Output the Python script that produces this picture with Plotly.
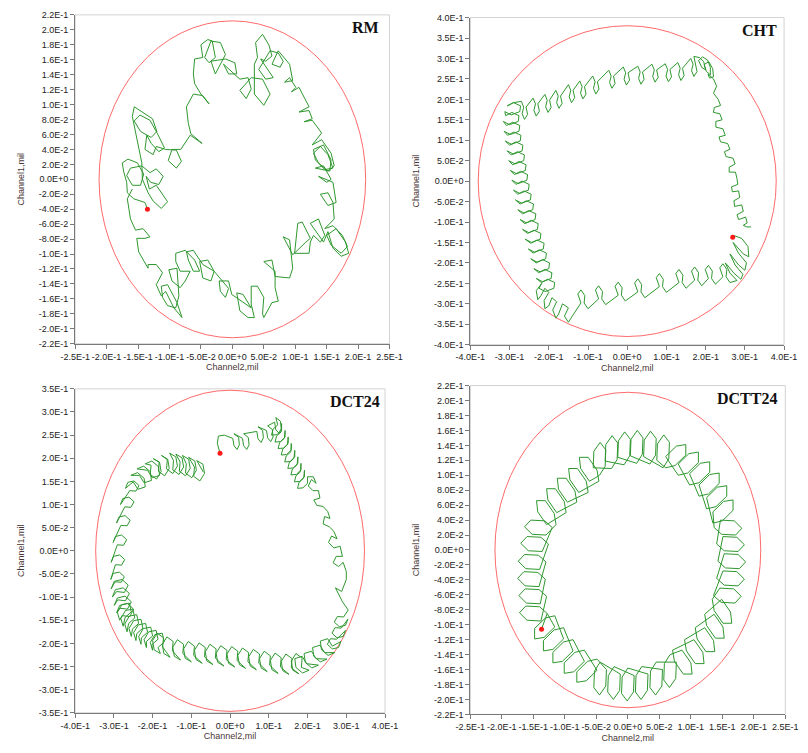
import plotly.graph_objects as go

# ---------------- data (orbit samples, units of 1e-3 mil) ----------------
rm_orbit = [
    (-135,-40),(-139,-31),(-157,-26),(-167,-18),(-168,-4),(-173,11),(-175,22),(-166,27),(-151,22),(-141,7),
    (-146,-8),(-159,-8),(-168,5),(-162,15),(-144,18),(-131,9),(-121,14),(-110,4),(-117,-7),(-130,-4),
    (-137,4),(-132,-13),(-121,-8),(-103,-30),(-113,-39),(-126,-29),(-134,-18),(-143,0),
    (-144,22),(-149,44),(-154,62),(-159,84),(-156,97),(-144,90),(-127,81),(-120,64),(-129,56),(-146,64),
    (-156,78),(-147,86),(-131,79),(-119,61),(-108,42),(-117,37),(-129,48),(-136,59),(-139,40),(-126,33),
    (-121,44),(-106,40),(-89,39),(-81,24),(-89,15),(-102,25),(-96,40),
    (-82,40),(-67,59),(-48,48),(-66,61),(-70,75),(-73,97),(-62,114),(-47,112),(-37,101),(-50,114),
    (-60,128),(-62,141),(-60,161),(-47,163),
    (-50,180),(-39,187),(-32,185),(-27,163),(-37,156),(-44,163),(-34,185),(-19,183),(-11,167),(-27,141),
    (-34,158),(-11,161),(4,156),(7,141),(-6,141),(-14,154),(12,134),(25,136),(30,121),(22,108),
    (12,119),(30,136),(48,134),(60,114),(50,99),(35,114),(35,154),
    (40,163),(37,183),(48,194),(58,180),(63,165),(53,158),(45,161),(65,136),(53,134),(42,147),
    (60,172),(73,169),(81,158),(76,150),(63,154),(73,172),(91,154),(96,132),(83,130),(91,136),
    (101,123),(94,117),(106,123),(122,97),(106,90),(122,92),(127,81),(114,77),(127,79),(142,62),
    (127,46),(142,53),(157,35),(162,18),(152,11),(137,22),(129,35),(140,44),(152,33),(160,15),
    (147,13),(132,26),(129,40),(145,46),(157,26),(155,11),(132,15),(145,18),(157,0),(150,-4),
    (137,4),(160,-4),(165,-31),
    (152,-35),(140,-20),(152,-18),(160,-31),(162,-53),(147,-66),(160,-62),(175,-75),(183,-90),(173,-99),
    (157,-88),(150,-75),(165,-66),(180,-84),(185,-99),(173,-103),(160,-92),(152,-70),(145,-84),
    (124,-59),(137,-53),(147,-75),(140,-84),(129,-75),(124,-84),(122,-99),(99,-99),(104,-59),(111,-57),
    (124,-79),(117,-84),(96,-101),(81,-77),(91,-81),(96,-119),(91,-132),(68,-130),(63,-108),(50,-110),
    (68,-123),(68,-145),(73,-163),(63,-165),(50,-185),(48,-180),(50,-158),(40,-143),(30,-143),(30,-167),
    (35,-185),(25,-185),(12,-176),(7,-152),(17,-154),(30,-172),
    (-1,-154),(-6,-136),(-21,-136),(-19,-150),(-11,-158),(-6,-146),(-29,-123),(-39,-108),(-52,-110),
    (-47,-132),(-34,-136),(-29,-123),
    (-47,-114),(-62,-95),(-73,-97),(-70,-108),(-62,-123),(-52,-123),(-60,-108),(-75,-95),(-90,-99),
    (-90,-110),(-83,-123),(-67,-123),(-75,-136),(-83,-145),(-96,-136),(-101,-121),(-88,-119),(-85,-156),
    (-90,-172),(-103,-169),(-111,-158),(-113,-143),(-103,-141),(-88,-165),(-80,-185),(-93,-172),(-106,-150),
    (-113,-156),(-121,-141),(-111,-125),(-121,-114),(-134,-114),(-134,-119),(-149,-97),(-152,-79),
    (-139,-79),(-131,-77),(-142,-66),(-154,-68),(-162,-53),(-167,-26),(-159,-13),
]

cht_orbit = [
    (272,-133),(292,-140),(308,-160),(310,-185),(296,-178),(278,-160),(270,-150),(283,-175),(304,-200),
    (300,-218),(284,-205),(268,-185),(262,-178),(275,-205),(295,-228),(290,-240),(272,-225),(255,-205),
    (250,-200),(262,-225),(280,-243),
    (262,-248),(252,-234),(254,-216),(244,-202),(236,-212),(244,-234),
    (225,-252),(215,-238),(217,-220),(207,-206),(199,-216),(207,-238),
    (190,-256),(180,-242),(182,-224),(172,-210),(164,-220),(172,-242),
    (150,-262),(140,-248),(142,-230),(132,-216),(124,-226),(132,-248),
    (100,-272),(90,-258),(92,-240),(82,-226),(74,-236),(82,-258),
    (45,-285),(35,-271),(37,-253),(27,-239),(19,-249),(27,-271),
    (-5,-293),(-15,-279),(-13,-261),(-23,-247),(-31,-257),(-23,-279),
    (-55,-302),(-65,-288),(-63,-270),(-73,-256),(-81,-266),(-73,-288),
    (-100,-312),(-110,-298),(-108,-280),(-118,-266),(-126,-276),(-118,-298),
    (-140,-330),(-150,-345),(-160,-330),(-150,-310),(-165,-300),(-175,-325),(-182,-335),(-190,-315),
    (-180,-295),(-192,-285),(-200,-305),(-210,-312),(-212,-292),(-200,-272),(-210,-262),(-220,-280),
    (-228,-290),(-232,-268),(-218,-250),
    (-225,-262),(-209,-270),(-187,-262),(-185,-248),(-203,-240),(-219,-248),
    (-232,-238),(-216,-246),(-194,-238),(-192,-224),(-210,-216),(-226,-224),
    (-238,-214),(-222,-222),(-200,-214),(-198,-200),(-216,-192),(-232,-200),
    (-246,-190),(-230,-198),(-208,-190),(-206,-176),(-224,-168),(-240,-176),
    (-252,-166),(-236,-174),(-214,-166),(-212,-152),(-230,-144),(-246,-152),
    (-260,-142),(-244,-150),(-222,-142),(-220,-128),(-238,-120),(-254,-128),
    (-267,-118),(-251,-126),(-229,-118),(-227,-104),(-245,-96),(-261,-104),
    (-273,-94),(-257,-102),(-235,-94),(-233,-80),(-251,-72),(-267,-80),
    (-279,-70),(-263,-78),(-241,-70),(-239,-56),(-257,-48),(-273,-56),
    (-285,-46),(-269,-54),(-247,-46),(-245,-32),(-263,-24),(-279,-32),
    (-290,-22),(-274,-30),(-252,-22),(-250,-8),(-268,0),(-284,-8),
    (-294,2),(-278,-6),(-256,2),(-254,16),(-272,24),(-288,16),
    (-298,26),(-282,18),(-260,26),(-258,40),(-276,48),(-292,40),
    (-302,50),(-286,42),(-264,50),(-262,64),(-280,72),(-296,64),
    (-306,74),(-290,66),(-268,74),(-266,88),(-284,96),(-300,88),
    (-311,98),(-295,90),(-273,98),(-271,112),(-289,120),(-305,112),
    (-314,122),(-298,114),(-276,122),(-274,136),(-292,144),(-308,136),
    (-316,146),(-300,138),(-278,146),(-276,160),(-294,168),(-310,160),
    (-312,170),(-296,162),(-274,170),(-272,184),(-290,192),(-306,184),
    (-290,192),
    (-270,195),(-264,181),(-268,165),(-262,151),(-254,163),(-258,181),
    (-240,203),(-234,189),(-238,173),(-232,159),(-224,171),(-228,189),
    (-210,212),(-204,198),(-208,182),(-202,168),(-194,180),(-198,198),
    (-182,222),(-176,208),(-180,192),(-174,178),(-166,190),(-170,208),
    (-150,236),(-144,222),(-148,206),(-142,192),(-134,204),(-138,222),
    (-121,245),(-115,231),(-119,215),(-113,201),(-105,213),(-109,231),
    (-88,257),(-82,243),(-86,227),(-80,213),(-72,225),(-76,243),
    (-47,271),(-41,257),(-45,241),(-39,227),(-31,239),(-35,257),
    (-10,279),(-4,265),(-8,249),(-2,235),(6,247),(2,265),
    (27,281),(33,267),(29,251),(35,237),(43,249),(39,267),
    (63,286),(69,272),(65,256),(71,242),(79,254),(75,272),
    (97,287),(103,273),(99,257),(105,243),(113,255),(109,273),
    (129,290),(135,276),(131,260),(137,246),(145,258),(141,276),
    (162,300),(168,286),(164,270),(170,256),(178,268),(174,286),
    (170,305),(185,302),(195,292),(200,272),(190,278),(182,295),(192,304),(205,296),(212,278),(212,260),
    (202,268),(196,285),(208,292),(218,275),(220,255),(210,252),(206,262),(220,250),(228,232),
    (220,215),(232,200),(238,185),(222,180),(220,168),(236,165),(242,150),(226,146),(226,132),(244,128),
    (250,112),(234,108),(238,96),(256,92),(262,78),(248,72),(252,60),(270,56),(275,42),(260,34),
    (260,22),(276,22),(280,6),(282,-8),(266,-14),(268,-26),(284,-24),(287,-40),(272,-48),(274,-62),
    (292,-58),(296,-74),(280,-82),(284,-94),(302,-88),(306,-102),(296,-108),(305,-112),(316,-112),
]

dct24_orbit = [
    (-69,170),
    (-86,195),(-70,187),(-66,167),(-78,151),(-94,161),(-92,181),
    (-107,202),(-91,194),(-87,174),(-99,158),(-115,168),(-113,188),
    (-123,206),(-107,198),(-103,178),(-115,162),(-131,172),(-129,192),
    (-140,209),(-124,201),(-120,181),(-132,165),(-148,175),(-146,195),
    (-156,211),(-140,203),(-136,183),(-148,167),(-164,177),(-162,197),
    (-177,206),(-161,198),(-157,178),(-169,162),(-185,172),(-183,192),
    (-198,199),(-182,191),(-178,171),(-190,155),(-206,165),(-204,185),
    (-219,188),(-202,194),(-185,182),(-182,163),(-201,158),(-213,174),
    (-240,177),(-223,183),(-206,171),(-203,152),(-222,147),(-234,163),
    (-256,163),(-239,169),(-222,157),(-219,138),(-238,133),(-250,149),
    (-270,135),(-264,148),(-248,151),(-235,141),(-243,129),(-259,130),
    (-283,100),(-277,113),(-261,116),(-248,106),(-256,94),(-272,95),
    (-293,60),(-287,73),(-271,76),(-258,66),(-266,54),(-282,55),
    (-302,18),(-296,31),(-280,34),(-267,24),(-275,12),(-291,13),
    (-307,-25),(-301,-12),(-285,-9),(-272,-19),(-280,-31),(-296,-30),
    (-308,-62),(-302,-49),(-286,-46),(-273,-56),(-281,-68),(-297,-67),
    (-307,-82),(-299,-66),(-279,-62),(-263,-74),(-273,-90),(-293,-88),
    (-304,-100),(-296,-84),(-276,-80),(-260,-92),(-270,-108),(-290,-106),
    (-299,-118),(-291,-102),(-271,-98),(-255,-110),(-265,-126),(-285,-124),
    (-293,-134),(-285,-118),(-265,-114),(-249,-126),(-259,-142),(-279,-140),
    (-285,-150),(-291,-133),(-279,-116),(-260,-113),(-255,-132),(-271,-144),
    (-276,-163),(-282,-146),(-270,-129),(-251,-126),(-246,-145),(-262,-157),
    (-266,-175),(-272,-158),(-260,-141),(-241,-138),(-236,-157),(-252,-169),
    (-255,-185),(-261,-168),(-249,-151),(-230,-148),(-225,-167),(-241,-179),
    (-243,-194),(-249,-177),(-237,-160),(-218,-157),(-213,-176),(-229,-188),
    (-230,-202),(-236,-185),(-224,-168),(-205,-165),(-200,-184),(-216,-196),
    (-216,-209),(-222,-192),(-210,-175),(-191,-172),(-186,-191),(-202,-203),
    (-200,-215),(-206,-198),(-194,-181),(-175,-178),(-170,-197),(-186,-209),
    (-180,-222),(-196,-214),(-200,-194),(-188,-178),(-172,-188),(-174,-208),
    (-155,-230),(-171,-222),(-175,-202),(-163,-186),(-147,-196),(-149,-216),
    (-128,-236),(-144,-228),(-148,-208),(-136,-192),(-120,-202),(-122,-222),
    (-100,-240),(-116,-232),(-120,-212),(-108,-196),(-92,-206),(-94,-226),
    (-72,-243),(-88,-235),(-92,-215),(-80,-199),(-64,-209),(-66,-229),
    (-44,-246),(-60,-238),(-64,-218),(-52,-202),(-36,-212),(-38,-232),
    (-16,-249),(-32,-241),(-36,-221),(-24,-205),(-8,-215),(-10,-235),
    (12,-251),(-4,-243),(-8,-223),(4,-207),(20,-217),(18,-237),
    (40,-254),(24,-246),(20,-226),(32,-210),(48,-220),(46,-240),
    (68,-257),(52,-249),(48,-229),(60,-213),(76,-223),(74,-243),
    (96,-261),(80,-253),(76,-233),(88,-217),(104,-227),(102,-247),
    (124,-265),(108,-257),(104,-237),(116,-221),(132,-231),(130,-251),
    (152,-267),(136,-259),(132,-239),(144,-223),(160,-233),(158,-253),
    (178,-266),(162,-258),(158,-238),(170,-222),(186,-232),(184,-252),
    (204,-258),(187,-264),(170,-252),(167,-233),(186,-228),(198,-244),
    (228,-247),(211,-253),(194,-241),(191,-222),(210,-217),(222,-233),
    (250,-234),(233,-240),(216,-228),(213,-209),(232,-204),(244,-220),
    (270,-220),(253,-226),(236,-214),(233,-195),(252,-190),(264,-206),
    (286,-196),(280,-209),(264,-212),(251,-202),(259,-190),(275,-191),
    (298,-172),(292,-185),(276,-188),(263,-178),(271,-166),(287,-167),
    (304,-148),(298,-161),(282,-164),(269,-154),(277,-142),(293,-143),
    (305,-128),(290,-110),(272,-80),(288,-88),(300,-62),
    (300,-45),(292,-25),(280,-34),(266,-26),(274,-12),(290,-12),(284,10),
    (268,6),(254,18),(262,32),(276,26),(268,42),
    (256,52),(240,58),(244,74),(258,70),(252,85),
    (240,96),(224,98),(216,110),(232,114),(228,130),
    (214,130),(202,140),(210,154),(222,146),(215,160),
    (200,160),(200,146),(188,136),(174,135),(178,148),(190,157),
    (192,174),(192,160),(180,150),(166,149),(170,162),(182,171),
    (183,189),(183,175),(171,165),(157,164),(161,177),(173,186),
    (175,203),(175,189),(163,179),(149,178),(153,191),(165,200),
    (167,217),(167,203),(155,193),(141,192),(145,205),(157,214),
    (158,232),(158,218),(146,208),(132,207),(136,220),(148,229),
    (150,246),(150,232),(138,222),(124,221),(128,234),(140,243),
    (142,260),(142,246),(130,236),(116,235),(120,248),(132,257),
    (133,275),(133,261),(121,251),(107,250),(111,263),(123,272),
    (118,288),(130,280),(132,264),(126,254),(118,262),(115,278),
    (97,270),(109,262),(111,246),(105,236),(97,244),(94,260),
    (72,268),(84,260),(86,244),(80,234),(72,242),(69,258),
    (35,253),(47,245),(49,229),(43,219),(35,227),(32,243),
    (10,253),(22,245),(24,229),(18,219),(10,227),(7,243),
    (-15,250),(-30,248),(-33,232),(-26,211),
]

dctt24_orbit = [
    (-137,-106),
    (-128,-85),(-140,-76),(-162,-75),(-172,-84),(-160,-94),(-138,-95),
    (-129,-62),(-141,-53),(-163,-52),(-173,-61),(-161,-71),(-139,-72),
    (-131,-39),(-143,-30),(-165,-29),(-175,-38),(-163,-48),(-141,-49),
    (-130,-16),(-142,-7),(-164,-6),(-174,-15),(-162,-25),(-140,-26),
    (-126,8),(-138,17),(-160,18),(-170,9),(-158,-1),(-136,-2),
    (-120,30),(-132,39),(-154,40),(-164,31),(-152,21),(-130,20),
    (-114,34),(-117,49),(-131,66),(-145,66),(-143,51),(-129,34),
    (-98,50),(-101,65),(-115,82),(-129,82),(-127,67),(-113,50),
    (-81,64),(-84,79),(-98,96),(-112,96),(-110,81),(-96,64),
    (-63,77),(-66,92),(-80,109),(-94,109),(-92,94),(-78,77),
    (-46,92),(-49,107),(-63,124),(-77,124),(-75,109),(-61,92),
    (-45,100),(-36,112),(-35,134),(-44,144),(-54,132),(-55,110),
    (-26,109),(-17,121),(-16,143),(-25,153),(-35,141),(-36,119),
    (-6,114),(3,126),(4,148),(-5,158),(-15,146),(-16,124),
    (14,116),(23,128),(24,150),(15,160),(5,148),(4,126),
    (35,115),(44,127),(45,149),(36,159),(26,147),(25,125),
    (56,110),(65,122),(66,144),(57,154),(47,142),(46,120),
    (60,110),(75,113),(92,127),(92,141),(77,139),(60,125),
    (80,100),(95,103),(112,117),(112,131),(97,129),(80,115),
    (98,87),(113,90),(130,104),(130,118),(115,116),(98,102),
    (113,72),(128,75),(145,89),(145,103),(130,101),(113,87),
    (125,55),(140,58),(157,72),(157,86),(142,84),(125,70),
    (135,36),(150,39),(167,53),(167,67),(152,65),(135,51),
    (137,30),(149,21),(171,20),(181,29),(169,39),(147,40),
    (141,8),(153,-1),(175,-2),(185,7),(173,17),(151,18),
    (143,-15),(155,-24),(177,-25),(187,-16),(175,-6),(153,-5),
    (141,-38),(153,-47),(175,-48),(185,-39),(173,-29),(151,-28),
    (136,-61),(148,-70),(170,-71),(180,-62),(168,-52),(146,-51),
    (134,-66),(137,-81),(151,-98),(165,-98),(163,-83),(149,-66),
    (122,-86),(125,-101),(139,-118),(153,-118),(151,-103),(137,-86),
    (107,-104),(110,-119),(124,-136),(138,-136),(136,-121),(122,-104),
    (90,-120),(93,-135),(107,-152),(121,-152),(119,-137),(105,-120),
    (71,-134),(74,-149),(88,-166),(102,-166),(100,-151),(86,-134),
    (67,-140),(58,-152),(57,-174),(66,-184),(76,-172),(77,-150),
    (45,-150),(36,-162),(35,-184),(44,-194),(54,-182),(55,-160),
    (22,-156),(13,-168),(12,-190),(21,-200),(31,-188),(32,-166),
    (0,-158),(-9,-170),(-10,-192),(-1,-202),(9,-190),(10,-168),
    (-22,-156),(-31,-168),(-32,-190),(-23,-200),(-13,-188),(-12,-166),
    (-44,-150),(-53,-162),(-54,-184),(-45,-194),(-35,-182),(-34,-160),
    (-49,-146),(-64,-149),(-81,-163),(-81,-177),(-66,-175),(-49,-161),
    (-69,-134),(-84,-137),(-101,-151),(-101,-165),(-86,-163),(-69,-149),
    (-87,-120),(-102,-123),(-119,-137),(-119,-151),(-104,-149),(-87,-135),
    (-102,-104),(-117,-107),(-134,-121),(-134,-135),(-119,-133),(-102,-119),
    (-116,-88),(-131,-91),(-148,-105),(-148,-119),(-133,-117),(-116,-103),
    (-128,-85),
]

panel_titles = ["RM", "CHT", "DCT24", "DCTT24"]
start_markers = [(-135, -40), (269, -137), (-26, 211), (-137, -106)]   # 1e-3 mil
clearance_radius = [0.212, 0.380, 0.347, 0.211]                          # mil

ticks_x_small = [-0.25, -0.20, -0.15, -0.10, -0.05, 0.0, 0.05, 0.10, 0.15, 0.20, 0.25]
ticks_y_small = [-0.22, -0.20, -0.18, -0.16, -0.14, -0.12, -0.10, -0.08, -0.06, -0.04, -0.02, 0.0,
                 0.02, 0.04, 0.06, 0.08, 0.10, 0.12, 0.14, 0.16, 0.18, 0.20, 0.22]
ticks_x_large = [-0.4, -0.3, -0.2, -0.1, 0.0, 0.1, 0.2, 0.3, 0.4]
ticks_y_cht = [-0.40, -0.35, -0.30, -0.25, -0.20, -0.15, -0.10, -0.05, 0.0,
               0.05, 0.10, 0.15, 0.20, 0.25, 0.30, 0.35, 0.40]
ticks_y_dct = [-0.35, -0.30, -0.25, -0.20, -0.15, -0.10, -0.05, 0.0,
               0.05, 0.10, 0.15, 0.20, 0.25, 0.30, 0.35]

orbits = [rm_orbit, cht_orbit, dct24_orbit, dctt24_orbit]
x_ticks = [ticks_x_small, ticks_x_large, ticks_x_large, ticks_x_small]
y_ticks = [ticks_y_small, ticks_y_cht, ticks_y_dct, ticks_y_small]


def sci(v):
    m, e = f"{v:.1E}".split("E")
    if m == "-0.0":
        m = "0.0"
    return f"{m}E{int(e):+d}"


# ---------------- layout geometry ----------------
x_domains = [[0.0771, 0.4802], [0.5838, 0.9860], [0.0771, 0.4744], [0.5838, 0.9876]]
y_domains = [[0.5441, 0.9867], [0.5428, 0.9831], [0.0474, 0.4834], [0.0452, 0.4878]]
title_pos = [(0.923, 0.961), (0.921, 0.960), (0.902, 0.961), (0.877, 0.960)]

GREEN = "#2e972e"
RED_CIRCLE = "#ff6a6a"
AXIS_COL = "#7a7a7a"
FRAME_COL = "#d2d2d2"
TICK_FONT = dict(family="Liberation Sans, Arial, sans-serif", size=9, color="#222222")
TITLE_FONT = dict(family="Liberation Sans, Arial, sans-serif", size=9, color="#4a3636")

fig = go.Figure()
layout = dict(
    width=808, height=753,
    margin=dict(l=0, r=0, t=0, b=0),
    paper_bgcolor="white", plot_bgcolor="white",
    showlegend=False,
    font=dict(family="Liberation Sans, Arial, sans-serif"),
    shapes=[], annotations=[],
)

for i in range(4):
    sfx = "" if i == 0 else str(i + 1)
    xa, ya = "x" + sfx, "y" + sfx
    xs = [p[0] / 1000.0 for p in orbits[i]]
    ys = [p[1] / 1000.0 for p in orbits[i]]
    fig.add_trace(go.Scatter(x=xs, y=ys, mode="lines", xaxis=xa, yaxis=ya,
                             line=dict(color=GREEN, width=1), hoverinfo="skip"))
    sx, sy = start_markers[i]
    fig.add_trace(go.Scatter(x=[sx / 1000.0], y=[sy / 1000.0], mode="markers", xaxis=xa, yaxis=ya,
                             marker=dict(color="#ff1a1a", size=5), hoverinfo="skip"))

    xt, yt = x_ticks[i], y_ticks[i]
    common = dict(showgrid=False, zeroline=False, ticks="outside", ticklen=4, tickwidth=1,
                  tickcolor=AXIS_COL, showline=True, linecolor=AXIS_COL, linewidth=1,
                  tickfont=TICK_FONT, fixedrange=True, tickangle=0)
    layout["xaxis" + sfx] = dict(common, domain=x_domains[i], range=[xt[0], xt[-1]],
                                 tickvals=xt, ticktext=[sci(v) for v in xt], anchor=ya,
                                 title=dict(text="Channel2,mil", font=TITLE_FONT, standoff=3))
    layout["yaxis" + sfx] = dict(common, domain=y_domains[i], range=[yt[0], yt[-1]],
                                 tickvals=yt, ticktext=[sci(v) for v in yt], anchor=xa,
                                 title=dict(text="Channel1,mil", font=TITLE_FONT, standoff=12))

    layout["shapes"].append(dict(type="rect", xref=xa + " domain", yref=ya + " domain",
                                 x0=0, x1=1, y0=0, y1=1, line=dict(color=FRAME_COL, width=1),
                                 layer="below"))
    r = clearance_radius[i]
    layout["shapes"].append(dict(type="circle", xref=xa, yref=ya, x0=-r, x1=r, y0=-r, y1=r,
                                 line=dict(color=RED_CIRCLE, width=1), layer="below"))
    tx, ty = title_pos[i]
    layout["annotations"].append(dict(text="<b>" + panel_titles[i] + "</b>", xref=xa + " domain",
                                      yref=ya + " domain", x=tx, y=ty, showarrow=False,
                                      xanchor="center", yanchor="middle",
                                      font=dict(family="Liberation Serif, Times New Roman, serif",
                                                size=16, color="#111111")))

fig.update_layout(**layout)
fig.write_html("out.html")
